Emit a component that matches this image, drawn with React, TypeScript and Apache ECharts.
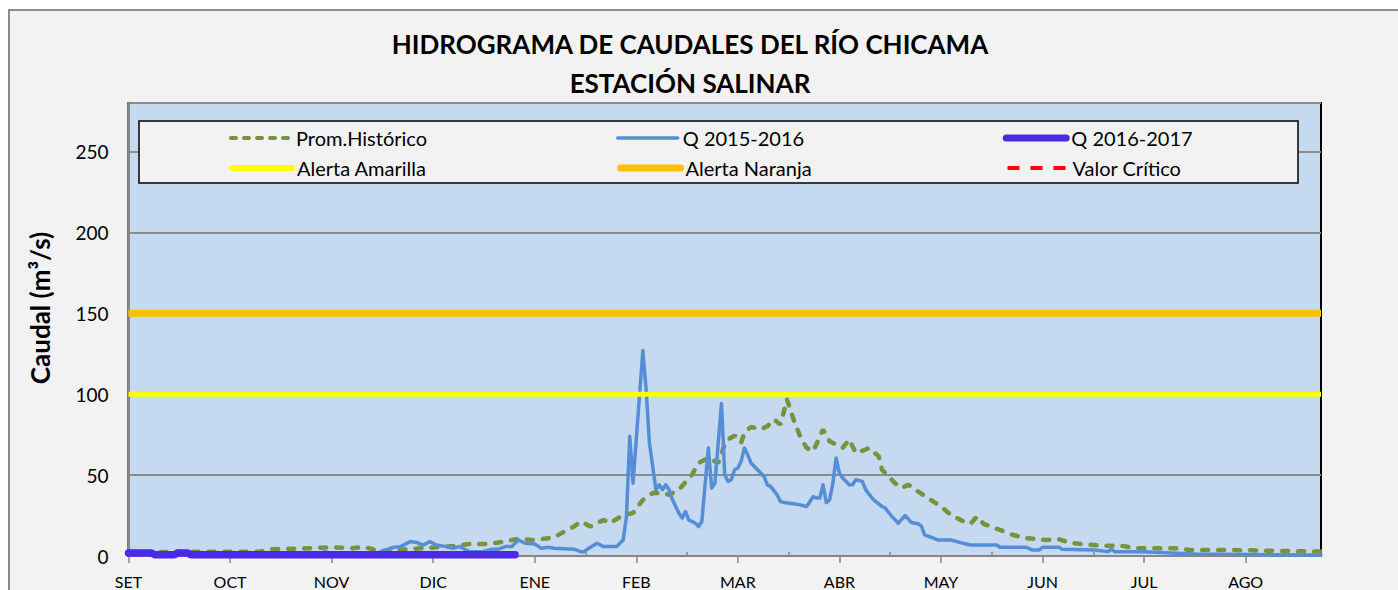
import React, { useEffect, useRef } from 'react';
import * as echarts from 'echarts';

// ---- Tick labels / positions (day index from 1 September) ----
const monthLabels = ['SET', 'OCT', 'NOV', 'DIC', 'ENE', 'FEB', 'MAR', 'ABR', 'MAY', 'JUN', 'JUL', 'AGO'];
const monthTickDays = [0, 31, 62, 93, 124, 155, 186, 217, 248, 279, 310, 341];
const midTickDays = [15.5, 46.5, 77.5, 108.5, 139.5, 170.5, 201.5, 232.5, 263.5, 294.5, 325.5, 356.5];
const yTickLabels = [0, 50, 100, 150, 200, 250];

// ---- Prom. Histórico ----
const histDays = [0, 8, 16, 40, 43, 56, 62, 68, 72, 76, 80, 85, 90, 94, 99, 104, 109, 113, 117, 119, 124, 128, 130, 133, 136, 138, 141, 145, 147, 151, 154, 157, 160, 163, 165, 168, 172, 174, 177, 180, 182, 183, 185, 187, 188, 190, 193, 195, 197, 199, 201, 203, 205, 207, 209, 212, 214, 216, 218, 220, 222, 225, 226, 229, 230, 232, 234, 236, 238, 241, 244, 248, 251, 255, 257, 259, 261, 266, 270, 274, 280, 284, 287, 291, 297, 303, 307, 320, 324, 337, 364];
const histVals = [2.5, 2.3, 2.7, 2.7, 4.2, 4.8, 5.4, 4.8, 5.6, 3.3, 3.3, 4.2, 4.8, 5.4, 6.2, 7.4, 7.4, 8.3, 9.9, 10.4, 9.9, 11, 11.6, 15.1, 18.2, 21.3, 18.2, 22.3, 20.3, 25.4, 26.5, 34.7, 38.9, 38.9, 37.8, 41, 50.2, 57.5, 60.6, 57.5, 69, 72, 74.4, 70, 76.1, 79.8, 78.2, 80.2, 84.4, 81.3, 96.8, 84.4, 74, 66.8, 64.7, 78.2, 70.9, 68.9, 66.8, 72, 63.7, 65.8, 66.8, 61.6, 53.3, 49.2, 45, 42, 44, 39.9, 35.8, 30.6, 25.4, 21.3, 19.9, 24.4, 19.9, 16.1, 13, 11, 9.9, 10.4, 8.3, 7.4, 6.4, 6.4, 4.8, 4.8, 3.7, 3.7, 2.7];

// ---- Q 2015-2016 ----
const q1516Days = [0, 30, 58, 60, 62, 76, 77, 81, 83, 86, 88, 90, 92, 94, 97, 99, 101, 102, 104, 108, 111, 113, 115, 117, 119, 121, 124, 126, 128, 130, 136, 138, 139, 141, 143, 145, 149, 151, 152, 153, 154, 157, 158, 159, 161, 162, 163, 164, 165, 166, 168, 169, 170, 171, 173, 174, 175, 177, 178, 179, 181, 182, 183, 184, 185, 186, 187, 188, 189, 190, 192, 194, 195, 196, 198, 199, 201, 203, 205, 207, 208, 209, 210, 211, 212, 213, 214, 215, 216, 217, 218, 220, 221, 222, 224, 225, 227, 228, 230, 231, 233, 235, 237, 239, 241, 242, 243, 245, 247, 251, 254, 257, 265, 266, 274, 276, 278, 279, 284, 285, 295, 299, 300, 301, 310, 325, 364];
const q1516Vals = [1.5, 1.5, 1.5, 2.7, 1.5, 1.8, 2.7, 5.4, 5.8, 8.9, 8.3, 6.8, 8.9, 6.8, 5.8, 4.8, 5.8, 4.8, 2.7, 2.7, 4.2, 4.2, 5.8, 5.8, 9.9, 7.9, 7.4, 4.8, 5.4, 4.8, 4.2, 2.7, 2.7, 5.4, 7.9, 5.8, 5.8, 9.9, 24.4, 74, 45, 127, 103, 70, 41, 44, 41, 44, 41, 35, 26.5, 23.4, 27.5, 22.3, 20.3, 18.2, 21.3, 66.8, 42, 45, 94.3, 50.2, 46.1, 47.1, 53.3, 54.4, 58.5, 66.8, 62.7, 57.5, 53.3, 49.2, 44, 43, 37.8, 33.7, 32.7, 32.3, 31.6, 30.6, 33.7, 36.8, 35.8, 35.8, 44, 33, 34.7, 45, 60.6, 51.3, 48.2, 44, 44, 47.1, 46.1, 41, 35.8, 33.7, 30.6, 29.6, 24.4, 20.3, 25, 20.7, 19.9, 18.6, 13, 11.6, 9.9, 9.9, 8.3, 6.8, 6.8, 5.4, 5.4, 3.7, 3.7, 5.4, 5.4, 4.2, 3.7, 2.7, 4.2, 2.7, 2.7, 1.2, 0.6];

// ---- Q 2016-2017 ----
const q1617Days = [0, 7, 8, 14, 15, 18, 19, 118];
const q1617Vals = [1.9, 1.9, 0.8, 0.8, 1.9, 1.9, 0.8, 0.8];

// ---- Thresholds ----
const alertDays = [0, 364];
const alertaAmarillaVals = [100, 100];
const alertaNaranjaVals = [150, 150];
const valorCriticoVals: number[] = [];

const zip = (d: number[], v: number[]) => v.map((val, i) => [d[i], val]);

const FONT = 'Lato';
const C_HIST = '#77933c';
const C_Q1516 = '#558ed5';
const C_Q1617 = '#4b2ae6';
const C_AMA = '#ffff00';
const C_NAR = '#ffc000';
const C_CRIT = '#ff0000';

const hiddenSymbol = { opacity: 0, color: 'transparent', borderWidth: 0 };

export default function App() {
  const ref = useRef<HTMLDivElement>(null);

  useEffect(() => {
    if (!ref.current) return;
    const chart = echarts.init(ref.current, undefined, { renderer: 'svg' });

    const legendText = { fontFamily: FONT, fontSize: 20, color: '#000', width: 250, lineHeight: 24 };
    const legendBase = {
      z: 10,
      left: 229,
      padding: 0,
      itemGap: 70,
      itemWidth: 60,
      itemHeight: 10,
      selectedMode: false,
      textStyle: legendText,
    };

    chart.setOption({
      animation: false,
      backgroundColor: '#ffffff',
      graphic: [
        {
          type: 'rect',
          z: -10,
          shape: { x: 9, y: 10, width: 1400, height: 600 },
          style: { fill: '#f2f2f2', stroke: '#8c8c8c', lineWidth: 2 },
        },
        {
          type: 'rect',
          z: 6,
          shape: { x: 139, y: 121, width: 1159, height: 62 },
          style: { fill: '#f2f2f2', stroke: '#000', lineWidth: 1.5 },
        },
        {
          type: 'text',
          z: 10,
          x: 690,
          y: 44,
          style: {
            text: 'HIDROGRAMA DE CAUDALES DEL RÍO CHICAMA',
            fontFamily: FONT, fontSize: 26, fontWeight: 'bold', fill: '#000',
            align: 'center', verticalAlign: 'middle',
          },
        },
        {
          type: 'text',
          z: 10,
          x: 690,
          y: 83,
          style: {
            text: 'ESTACIÓN SALINAR',
            fontFamily: FONT, fontSize: 26, fontWeight: 'bold', fill: '#000',
            align: 'center', verticalAlign: 'middle',
          },
        },
        {
          type: 'text',
          z: 10,
          x: 40,
          y: 308,
          rotation: Math.PI / 2,
          style: {
            text: 'Caudal (m³/s)',
            fontFamily: FONT, fontSize: 26, fontWeight: 'bold', fill: '#000',
            align: 'center', verticalAlign: 'middle',
          },
        },
      ],
      legend: [
        {
          ...legendBase,
          top: 126,
          data: [
            { name: 'Prom.Histórico', itemStyle: hiddenSymbol, lineStyle: { color: C_HIST, width: 4, type: [5, 8], cap: 'round' } },
            { name: 'Q 2015-2016', itemStyle: hiddenSymbol, lineStyle: { color: C_Q1516, width: 3.5, cap: 'round' } },
            { name: 'Q 2016-2017', itemStyle: hiddenSymbol, lineStyle: { color: C_Q1617, width: 7, cap: 'round' } },
          ],
        },
        {
          ...legendBase,
          top: 156,
          data: [
            { name: 'Alerta Amarilla', itemStyle: hiddenSymbol, lineStyle: { color: C_AMA, width: 6, cap: 'round' } },
            { name: 'Alerta Naranja', itemStyle: hiddenSymbol, lineStyle: { color: C_NAR, width: 7, cap: 'round' } },
            { name: 'Valor Crítico', itemStyle: hiddenSymbol, lineStyle: { color: C_CRIT, width: 4, type: [12, 11], cap: 'butt' } },
          ],
        },
      ],
      grid: {
        left: 128.5,
        right: 77,
        top: 103,
        bottom: 34,
        show: true,
        backgroundColor: '#c5d9f1',
        borderColor: '#000',
        borderWidth: 2,
      },
      xAxis: [
        {
          type: 'value',
          min: 0,
          max: 364,
          interval: 31,
          position: 'bottom',
          axisLine: { show: true, onZero: false, lineStyle: { color: '#868686', width: 2 } },
          axisTick: {
            show: true,
            length: 7,
            customValues: monthTickDays,
            lineStyle: { color: '#868686', width: 1.5 },
          },
          axisLabel: {
            customValues: monthTickDays,
            formatter: (v: number) => {
              const i = monthTickDays.indexOf(v);
              return i >= 0 ? monthLabels[i] : '';
            },
            margin: 17,
            fontFamily: FONT,
            fontSize: 16,
            color: '#000',
          },
          splitLine: { show: false },
        },
        {
          type: 'value',
          min: 0,
          max: 364,
          interval: 15.5,
          position: 'bottom',
          axisLine: { show: false, onZero: false },
          axisTick: {
            show: true,
            inside: true,
            length: 4,
            customValues: midTickDays,
            lineStyle: { color: '#868686', width: 1.5 },
          },
          axisLabel: { show: false },
          splitLine: { show: false },
        },
      ],
      yAxis: {
        type: 'value',
        min: 0,
        max: 280,
        interval: 50,
        axisLine: { show: true, lineStyle: { color: '#868686', width: 2 } },
        axisTick: { show: false },
        axisLabel: {
          formatter: (v: number) => (yTickLabels.indexOf(v) >= 0 ? String(v) : ''),
          margin: 20,
          fontFamily: FONT,
          fontSize: 19,
          color: '#000',
        },
        splitLine: { show: true, lineStyle: { color: '#8c8c8c', width: 2 } },
      },
      series: [
        {
          name: 'Prom.Histórico',
          type: 'line',
          symbol: 'none',
          z: 2,
          color: C_HIST,
          lineStyle: { color: C_HIST, width: 4.5, type: [6, 10], cap: 'round' },
          data: zip(histDays, histVals),
        },
        {
          name: 'Q 2015-2016',
          type: 'line',
          symbol: 'none',
          z: 3,
          color: C_Q1516,
          lineStyle: { color: C_Q1516, width: 3.5, cap: 'round', join: 'round' },
          data: zip(q1516Days, q1516Vals),
        },
        {
          name: 'Q 2016-2017',
          type: 'line',
          symbol: 'none',
          z: 4,
          color: C_Q1617,
          lineStyle: { color: C_Q1617, width: 7.5, cap: 'round', join: 'round' },
          data: zip(q1617Days, q1617Vals),
        },
        {
          name: 'Alerta Amarilla',
          type: 'line',
          symbol: 'none',
          z: 5,
          color: C_AMA,
          lineStyle: { color: C_AMA, width: 5 },
          data: zip(alertDays, alertaAmarillaVals),
        },
        {
          name: 'Alerta Naranja',
          type: 'line',
          symbol: 'none',
          z: 5,
          color: C_NAR,
          lineStyle: { color: C_NAR, width: 7 },
          data: zip(alertDays, alertaNaranjaVals),
        },
        {
          name: 'Valor Crítico',
          type: 'line',
          symbol: 'none',
          z: 5,
          color: C_CRIT,
          lineStyle: { color: C_CRIT, width: 4, type: [10, 10] },
          data: zip(alertDays, valorCriticoVals),
        },
      ],
    });

    return () => chart.dispose();
  }, []);

  return (
    <div
      ref={ref}
      style={{ position: 'absolute', left: 0, top: 0, width: 1398, height: 590 }}
    />
  );
}
